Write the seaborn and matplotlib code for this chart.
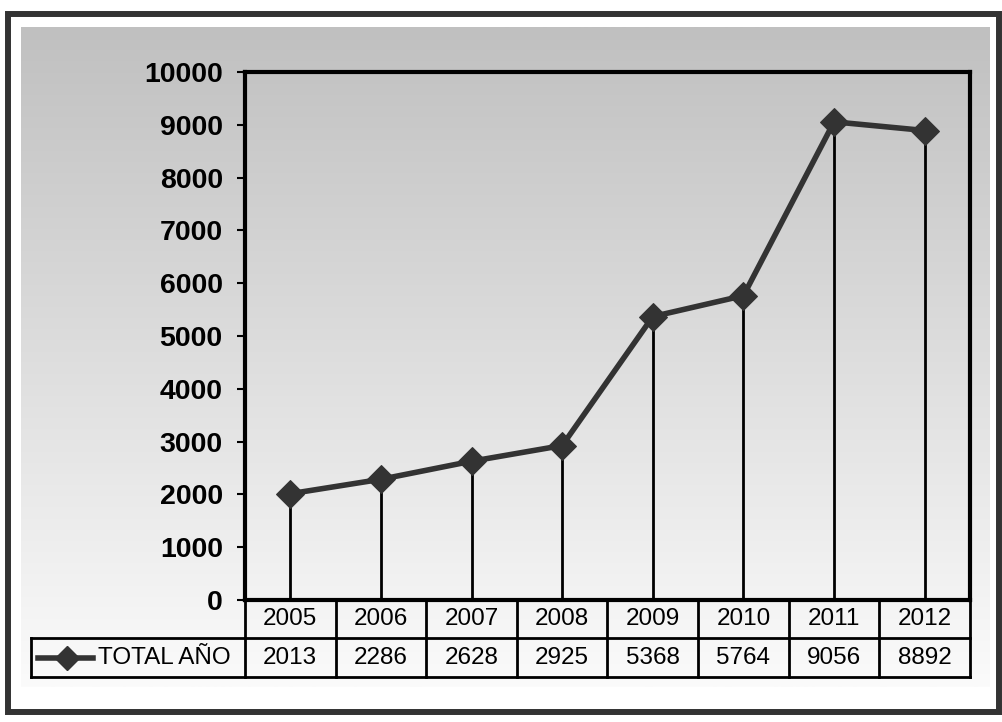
import numpy as np
import pandas as pd
import matplotlib
matplotlib.use('Agg')
import matplotlib.pyplot as plt
import seaborn as sns
from matplotlib.patches import Rectangle
from matplotlib.lines import Line2D
from matplotlib.colors import LinearSegmentedColormap

# datos del gráfico
anios = ['2005', '2006', '2007', '2008', '2009', '2010', '2011', '2012']
totales = [2013, 2286, 2628, 2925, 5368, 5764, 9056, 8892]
serie = 'TOTAL AÑO'
yticks = list(range(0, 10001, 1000))

df = pd.DataFrame({'pos': np.arange(len(anios)), 'anio': anios, 'total': totales})

plt.rcParams['font.family'] = ['Liberation Sans', 'DejaVu Sans']

W, H = 1003, 722
fig = plt.figure(figsize=(W / 100, H / 100), dpi=100)


def fx(px):
    return px / W


def fy(py):
    return 1 - py / H


# fondo degradado (gris arriba, blanco abajo)
bg = fig.add_axes([fx(21), fy(687), fx(990 - 21), (687 - 27) / H], zorder=0)
grad = np.linspace(0, 1, 256).reshape(-1, 1)
cmap = LinearSegmentedColormap.from_list('g', ['#c0c0c0', '#fbfbfb'])
bg.imshow(grad, aspect='auto', cmap=cmap, extent=[0, 1, 0, 1], origin='upper')
bg.axis('off')

# marco exterior
fig.patches.append(Rectangle((fx(8), fy(711.5)), fx(999 - 8), (711.5 - 14) / H,
                             transform=fig.transFigure, fill=False,
                             edgecolor='#333333', linewidth=4.3, zorder=0))

# área del gráfico
ax = fig.add_axes([fx(245), fy(600), fx(970 - 245), (600 - 72) / H], zorder=2)
ax.set_facecolor('none')

# líneas verticales hasta el eje
ax.vlines(df['pos'], 0, df['total'], color='black', linewidth=2, zorder=2)

sns.lineplot(data=df, x='pos', y='total', ax=ax, color='#333333',
             linewidth=4, marker='D', markersize=14, markeredgecolor='#333333',
             zorder=3)

ax.set_xlim(-0.5, len(anios) - 0.5)
ax.set_ylim(0, 10000)
ax.set_yticks(yticks)
ax.set_yticklabels([str(v) for v in yticks], fontsize=20.5, fontweight='bold')
ax.set_xticks([])
ax.set_xlabel('')
ax.set_ylabel('')
ax.tick_params(axis='y', length=6, width=1.5, pad=10, color='black')
for s in ax.spines.values():
    s.set_linewidth(3)
    s.set_color('black')

# tabla de datos debajo del gráfico
tr = matplotlib.transforms.blended_transform_factory(ax.transData, ax.transAxes)
h1 = 38 / 528
h2 = 77 / 528
x_izq = -0.5 - (245 - 31) / ((970 - 245) / len(anios))
lw_t = 2
fs_t = 17.5
ax.add_line(Line2D([-0.5, len(anios) - 0.5], [-h1, -h1], transform=tr, color='black', lw=lw_t, clip_on=False))
ax.add_line(Line2D([x_izq, len(anios) - 0.5], [-h2, -h2], transform=tr, color='black', lw=lw_t, clip_on=False))
ax.add_line(Line2D([x_izq, -0.5], [-h1, -h1], transform=tr, color='black', lw=lw_t, clip_on=False))
ax.add_line(Line2D([x_izq, x_izq], [-h1, -h2], transform=tr, color='black', lw=lw_t, clip_on=False))
for i in range(len(anios) + 1):
    ax.add_line(Line2D([i - 0.5, i - 0.5], [0, -h2], transform=tr, color='black', lw=lw_t, clip_on=False))
for i, (a, t) in enumerate(zip(anios, totales)):
    ax.text(i, -h1 / 2, a, transform=tr, ha='center', va='center', fontsize=fs_t)
    ax.text(i, -(h1 + h2) / 2, str(t), transform=tr, ha='center', va='center', fontsize=fs_t)

# clave de leyenda en la tabla
px = (970 - 245) / len(anios)
ly = -(h1 + h2) / 2
ax.add_line(Line2D([x_izq + 7 / px, x_izq + 62 / px], [ly, ly], transform=tr, color='#333333',
                   lw=4, clip_on=False))
ax.add_line(Line2D([x_izq + 36 / px], [ly], transform=tr, color='#333333', marker='D',
                   markersize=12, clip_on=False))
ax.text(x_izq + 67 / px, ly, serie, transform=tr, ha='left', va='center', fontsize=fs_t)

fig.savefig('out.png', dpi=100)
